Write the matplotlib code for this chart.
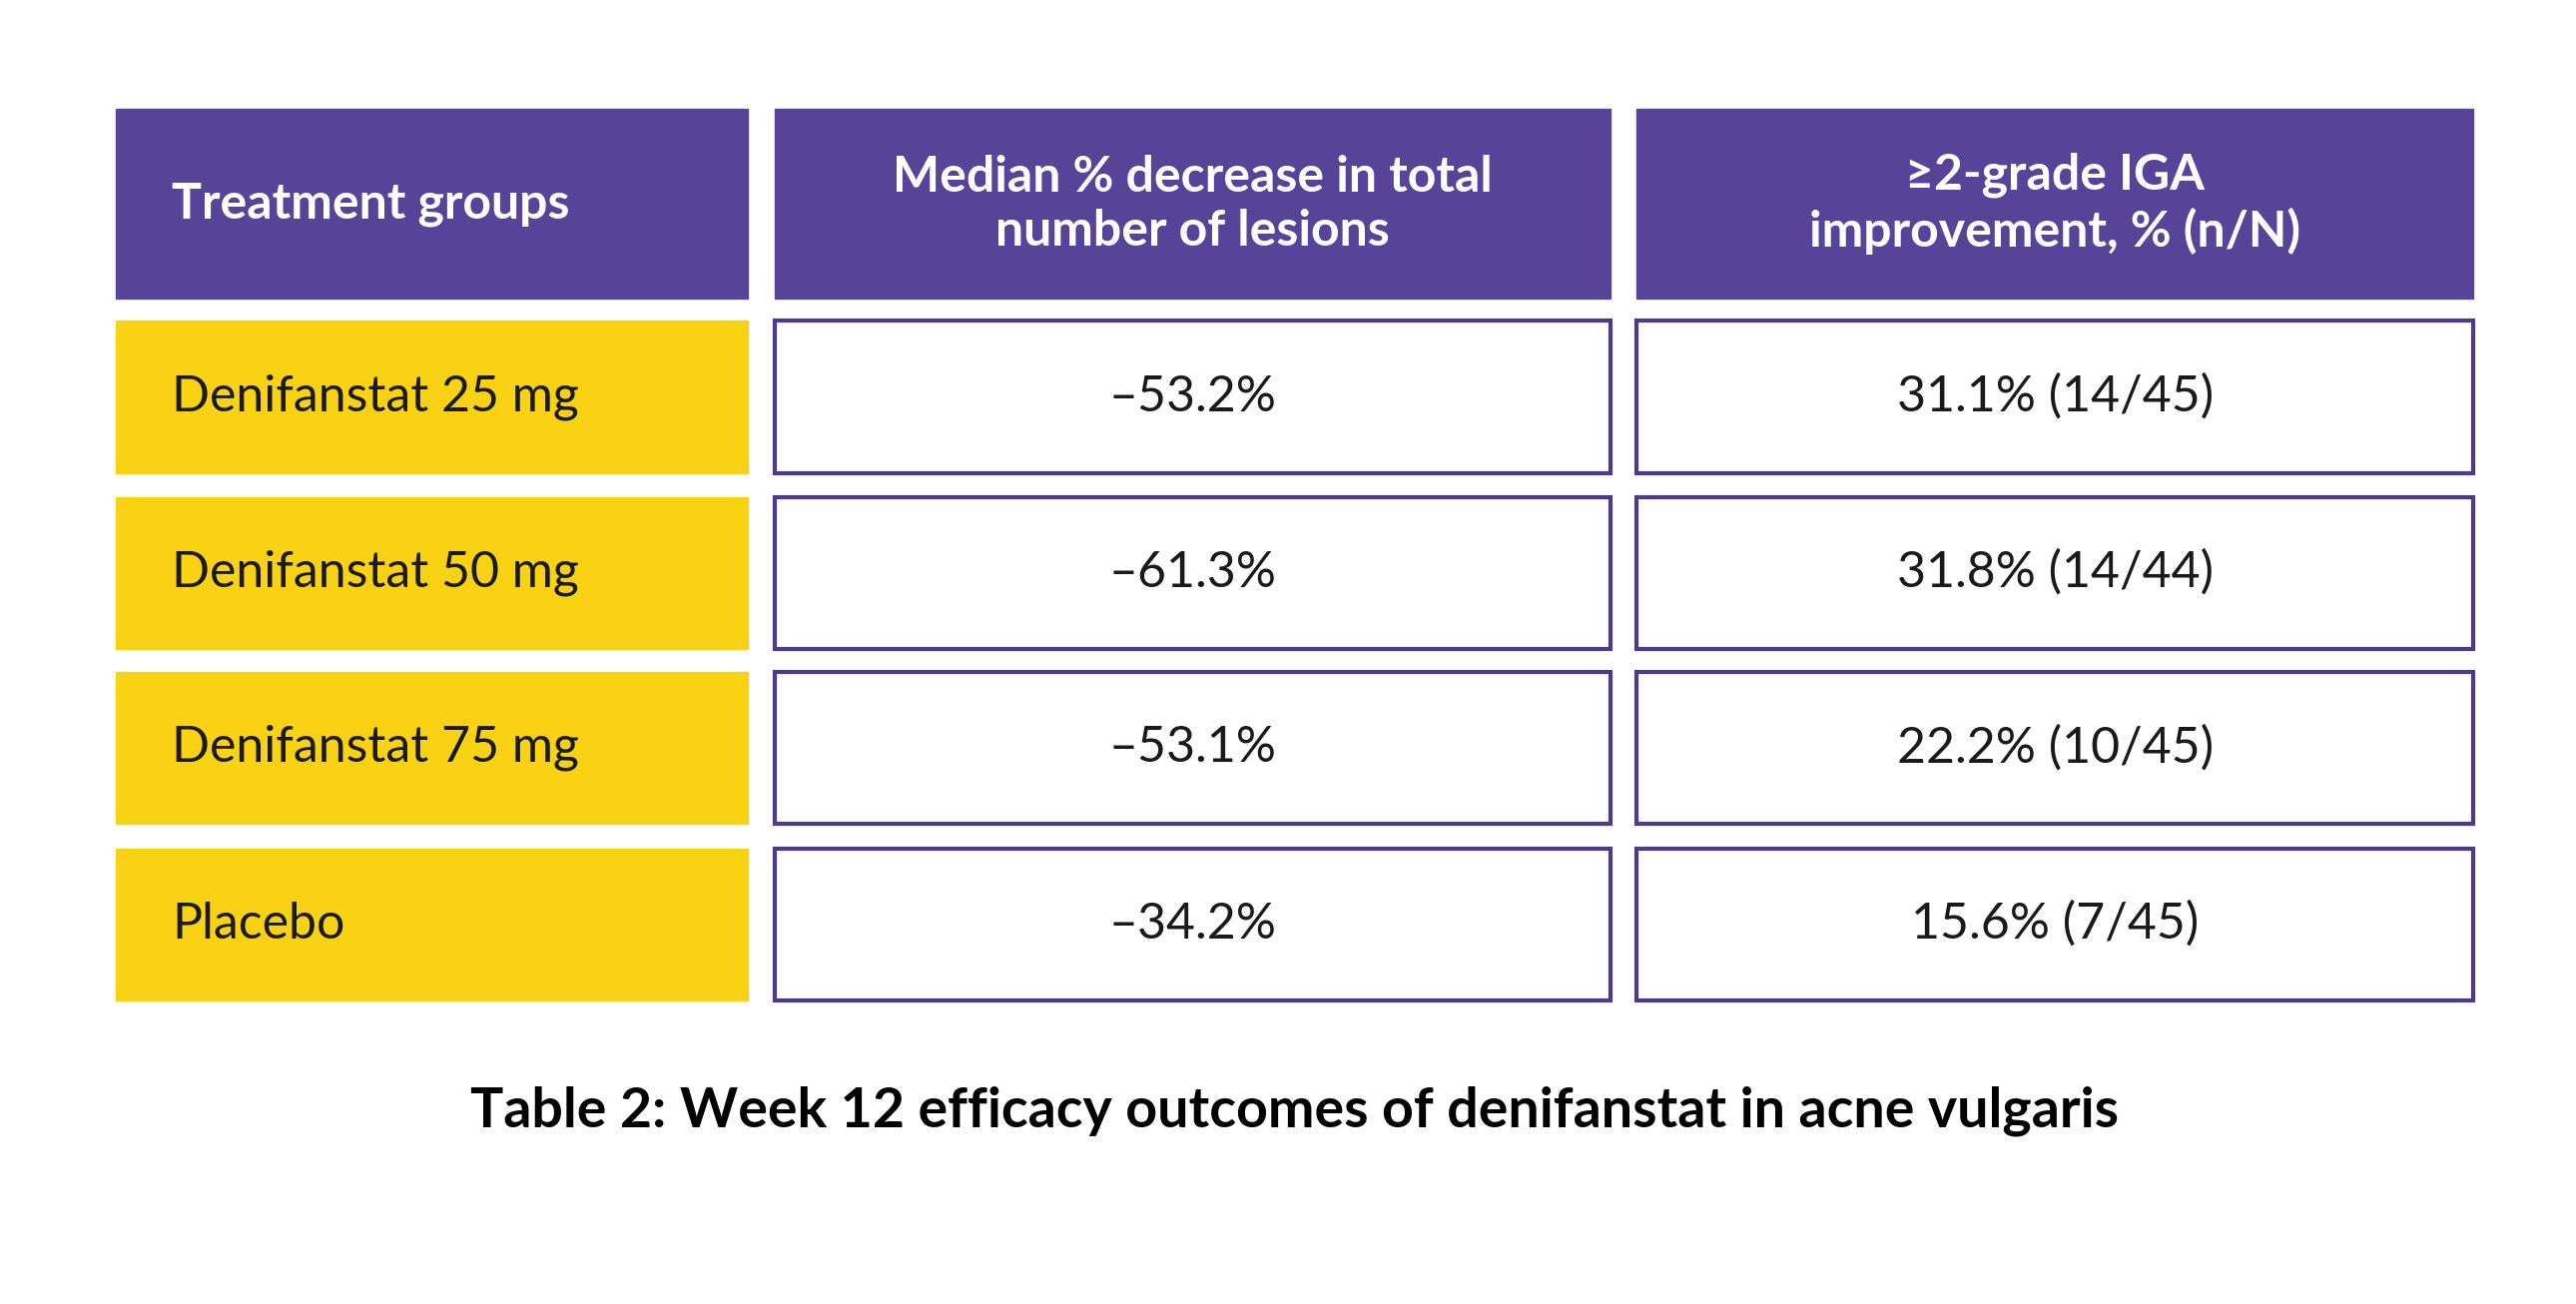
import matplotlib
matplotlib.use("Agg")
import matplotlib.pyplot as plt
from matplotlib.patches import Rectangle

headers = ["Treatment groups", "Median % decrease in total\nnumber of lesions", "≥2-grade IGA\nimprovement, % (n/N)"]
groups = ["Denifanstat 25 mg", "Denifanstat 50 mg", "Denifanstat 75 mg", "Placebo"]
lesion_decrease = ["–53.2%", "–61.3%", "–53.1%", "–34.2%"]
iga = ["31.1% (14/45)", "31.8% (14/44)", "22.2% (10/45)", "15.6% (7/45)"]
caption = "Table 2: Week 12 efficacy outcomes of denifanstat in acne vulgaris"

PURPLE = "#574499"
BORDER = "#4B3A8E"
YELLOW = "#F9D313"
FONT = ["Lato", "DejaVu Sans"]

fig = plt.figure(figsize=(25.8, 13.06), dpi=100)
ax = fig.add_axes([0, 0, 1, 1])
ax.set_xlim(0, 1560); ax.set_ylim(790, 0); ax.axis("off")

cols = [(70, 453), (469, 975), (991, 1498)]
hdr = (66, 181)
rows = [(194, 287), (301, 393), (407, 499), (514, 606)]

for i, (x0, x1) in enumerate(cols):
    ax.add_patch(Rectangle((x0, hdr[0]), x1 - x0, hdr[1] - hdr[0], color=PURPLE))
    if i == 0:
        ax.text(x0 + 34, sum(hdr) / 2, headers[i], color="white", fontsize=36, fontweight="bold",
                family=FONT, ha="left", va="center")
    else:
        ax.text((x0 + x1) / 2, sum(hdr) / 2, headers[i], color="white", fontsize=36, fontweight="bold",
                family=FONT, ha="center", va="center", linespacing=1.25)

for r, (y0, y1) in enumerate(rows):
    yc = (y0 + y1) / 2
    x0, x1 = cols[0]
    ax.add_patch(Rectangle((x0, y0), x1 - x0, y1 - y0, color=YELLOW))
    ax.text(x0 + 34, yc, groups[r], fontsize=36, family=FONT, ha="left", va="center", color="#1a1a1a")
    for c, vals in ((1, lesion_decrease), (2, iga)):
        x0, x1 = cols[c]
        ax.add_patch(Rectangle((x0, y0), x1 - x0, y1 - y0, facecolor="white", edgecolor=BORDER, linewidth=3))
        ax.text((x0 + x1) / 2, yc, vals[r], fontsize=36, family=FONT, ha="center", va="center", color="#1a1a1a")

ax.text(784, 673, caption, fontsize=40, fontweight="bold", family=FONT, ha="center", va="center", color="black")

fig.savefig("out.png", dpi=100, facecolor="white")
